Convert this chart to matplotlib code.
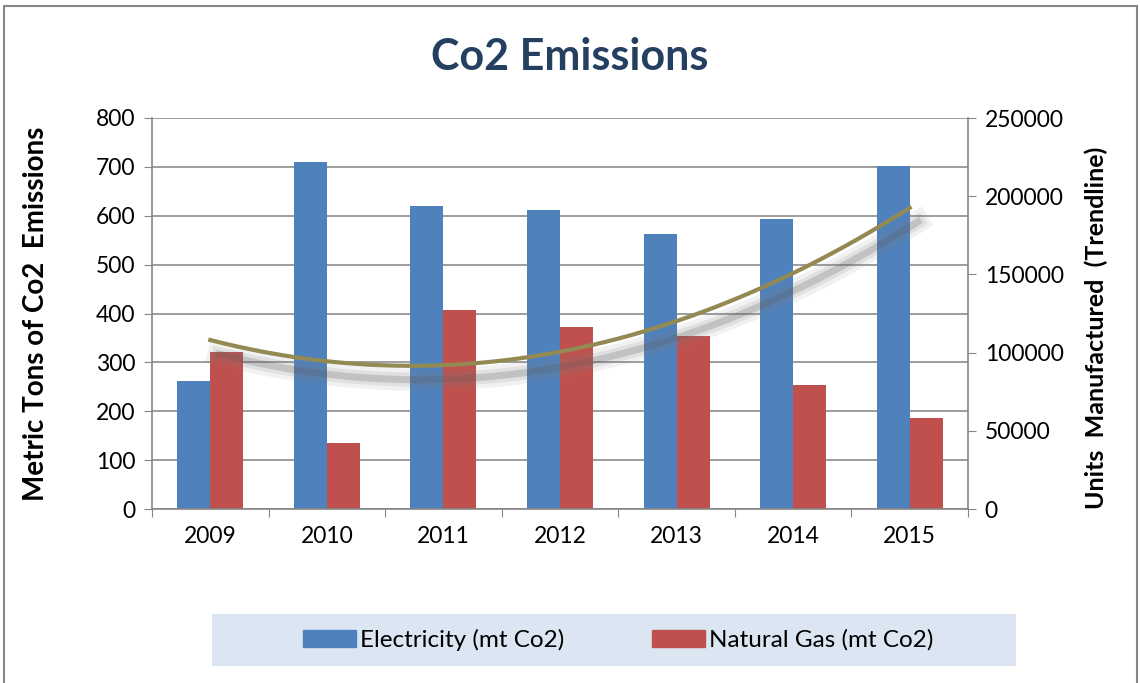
import numpy as np
import matplotlib.pyplot as plt
import matplotlib.patheffects as pe
from matplotlib.patches import Rectangle, Patch

plt.rcParams['font.family'] = ['Lato', 'DejaVu Sans']

years = ['2009', '2010', '2011', '2012', '2013', '2014', '2015']
electricity = [262, 710, 619, 611, 563, 594, 701]
natural_gas = [322, 135, 408, 373, 353, 254, 187]
# units manufactured
units_trend = [108000, 94500, 92000, 100500, 120000, 151000, 192500]

fig = plt.figure(figsize=(11.4, 6.83), dpi=100)
ax = fig.add_axes([152 / 1140, 1 - 509 / 683, 816 / 1140, 391 / 683])

x = np.arange(len(years))
w = 0.283
blue = '#4F81BD'
red = '#C0504D'
ax.bar(x - w / 2, electricity, w, color=blue, zorder=2)
ax.bar(x + w / 2, natural_gas, w, color=red, zorder=2)

ax.set_xlim(-0.5, len(years) - 0.5)
ax.set_ylim(0, 800)
ax.set_yticks(range(0, 801, 100))
ax.set_xticks(np.arange(-0.5, len(years)), minor=False, labels=[''] * (len(years) + 1))
ax.set_xticks(x, minor=True, labels=years)
ax.tick_params(axis='x', which='minor', length=0, labelsize=16.5, pad=12)
ax.tick_params(axis='x', which='major', length=6, color='#868686', direction='out')
ax.tick_params(axis='y', length=6, color='#868686', labelsize=16.5, pad=6)
ax.yaxis.grid(True, color='#8C8C8C', linewidth=1.2, zorder=0)
ax.set_axisbelow(True)
for s in ['top', 'right']:
    ax.spines[s].set_visible(False)
for s in ['left', 'bottom']:
    ax.spines[s].set_color('#868686')
    ax.spines[s].set_linewidth(1.2)
ax.set_ylabel('Metric Tons of Co2  Emissions', fontsize=20, fontweight='bold')
ax.yaxis.set_label_coords(-0.126, 0.499)

ax2 = ax.twinx()
ax2.set_ylim(0, 250000)
ax2.set_yticks(range(0, 250001, 50000))
ax2.tick_params(axis='y', length=6, color='#868686', labelsize=16.5, pad=6)
for s in ['top', 'left', 'bottom']:
    ax2.spines[s].set_visible(False)
ax2.spines['right'].set_color('#868686')
ax2.spines['right'].set_linewidth(1.2)
ax2.set_ylabel('Units  Manufactured  (Trendline)', fontsize=18, fontweight='bold')
ax2.yaxis.set_label_coords(1.143, 0.463)

# polynomial (order 2) trendline as in the spreadsheet
coef = np.polyfit(x, units_trend, 2)
xs = np.linspace(0, len(years) - 1, 200)
shadow = [pe.SimpleLineShadow(offset=(6, -10), shadow_color='#7F7F7F', alpha=0.10, linewidth=16),
          pe.SimpleLineShadow(offset=(6, -10), shadow_color='#7F7F7F', alpha=0.15, linewidth=10),
          pe.SimpleLineShadow(offset=(6, -10), shadow_color='#595959', alpha=0.22, linewidth=5),
          pe.Normal()]
ax2.plot(xs, np.polyval(coef, xs), color='#938953', linewidth=3, zorder=3, path_effects=shadow)

fig.text(0.5, 1 - 57 / 683, 'Co2 Emissions', ha='center', va='center',
         fontsize=31, fontweight='bold', color='#243F60')

handles = [Patch(color=blue, label='Electricity (mt Co2)'),
           Patch(color=red, label='Natural Gas (mt Co2)')]
fig.patches.append(Rectangle((212 / 1140, 1 - 666 / 683), 804 / 1140, 52 / 683,
                             transform=fig.transFigure, facecolor='#DCE6F2', edgecolor='none', zorder=0))
fig.legend(handles=handles, loc='center', bbox_to_anchor=(618 / 1140, 1 - 640 / 683),
           ncol=2, frameon=False, fontsize=17.5, handlelength=2.2, handleheight=0.65,
           handletextpad=0.15, columnspacing=3.6)

fig.patches.append(Rectangle((4 / 1140, -0.1), 1133 / 1140, 1.1 - 6 / 683,
                             transform=fig.transFigure, facecolor='none', edgecolor='#868686',
                             linewidth=1.5))

fig.savefig('out.png', dpi=100)
